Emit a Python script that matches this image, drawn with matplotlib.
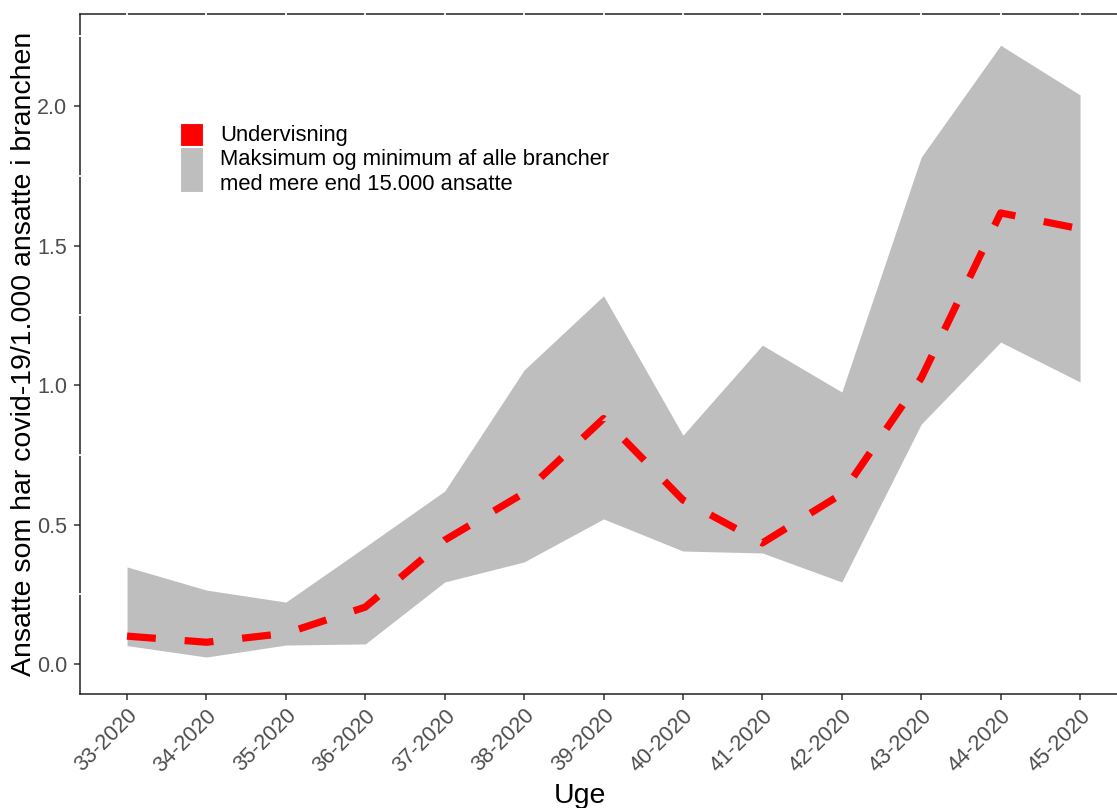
import matplotlib
matplotlib.use("Agg")
import matplotlib.pyplot as plt
import matplotlib.transforms as mtransforms
from matplotlib.patches import Rectangle

plt.rcParams['font.family'] = ['Liberation Sans', 'DejaVu Sans']

weeks = ["33-2020", "34-2020", "35-2020", "36-2020", "37-2020", "38-2020", "39-2020",
         "40-2020", "41-2020", "42-2020", "43-2020", "44-2020", "45-2020"]
week_num = [33, 34, 35, 36, 37, 38, 39, 40, 41, 42, 43, 44, 45]
undervisning = [0.10, 0.078, 0.11, 0.204, 0.444, 0.613, 0.88, 0.588, 0.434, 0.61, 1.025, 1.617, 1.56]
maksimum = [0.348, 0.265, 0.222, 0.42, 0.62, 1.054, 1.32, 0.82, 1.143, 0.975, 1.817, 2.218, 2.04]
minimum = [0.066, 0.025, 0.068, 0.072, 0.294, 0.366, 0.52, 0.405, 0.398, 0.294, 0.86, 1.154, 1.011]
y_ticks = [0.0, 0.5, 1.0, 1.5, 2.0]
y_minor = [0.25, 0.75, 1.25, 1.75, 2.25]

W, H = 1117, 808
fig = plt.figure(figsize=(W / 100, H / 100), dpi=100)
ax = fig.add_axes([80 / W, 1 - 694 / H, 1 - 80 / W, (694 - 14) / H])

ax.fill_between(week_num, minimum, maksimum, color="#BEBEBE", linewidth=0, zorder=1)
ax.plot(week_num, undervisning, color="#FF0000", linewidth=5.2, linestyle=(0, (4, 4)),
        dash_capstyle="butt", zorder=2)

ax.set_xlim(32.408, 45.465)
ax.set_ylim(-0.1075, 2.33)
ax.set_xticks(week_num)
ax.set_xticklabels(weeks, rotation=45, ha="right", va="top", rotation_mode="anchor")
ax.set_yticks(y_ticks)
ax.set_yticklabels([f"{v:.1f}" for v in y_ticks])
ax.tick_params(axis="both", labelsize=15.5, labelcolor="#4D4D4D", color="#333333",
               length=4, width=1.1)
ax.tick_params(axis="x", pad=4)
ax.tick_params(axis="y", pad=5)

for side in ["left", "bottom", "top"]:
    ax.spines[side].set_color("#222222")
    ax.spines[side].set_linewidth(1.1)
ax.spines["right"].set_visible(False)

# white gridline crossings on the border
trans_x = mtransforms.blended_transform_factory(ax.transData, ax.transAxes)
ax.vlines(week_num, 0.994, 1.006, colors="white", linewidth=1.3, transform=trans_x,
          clip_on=False, zorder=5)
trans_y = mtransforms.blended_transform_factory(ax.transAxes, ax.transData)
ax.hlines(y_minor, -0.003, 0.003, colors="white", linewidth=1.3, transform=trans_y,
          clip_on=False, zorder=5)

fig.text(24 / W, 1 - 354 / H, "Ansatte som har covid-19/1.000 ansatte i branchen",
         rotation=90, ha="center", va="center", fontsize=20.5, color="black")
fig.text(580 / W, 1 - 796 / H, "Uge", ha="center", va="center", fontsize=20.5, color="black")

# legend
fig.patches.append(Rectangle((180 / W, 1 - 146 / H), 23 / W, 23 / H, transform=fig.transFigure,
                             facecolor="#FF0000", edgecolor="white", linewidth=0.8))
fig.patches.append(Rectangle((180 / W, 1 - 192 / H), 23 / W, 45 / H, transform=fig.transFigure,
                             facecolor="#BEBEBE", edgecolor="white", linewidth=0.8))
fig.text(220 / W, 1 - 135 / H, "Undervisning", ha="left", va="center", fontsize=15.8)
fig.text(220 / W, 1 - 160 / H, "Maksimum og minimum af alle brancher",
         ha="left", va="center", fontsize=15.8)
fig.text(220 / W, 1 - 185 / H, "med mere end 15.000 ansatte",
         ha="left", va="center", fontsize=15.8)

fig.savefig("out.png", dpi=100)
